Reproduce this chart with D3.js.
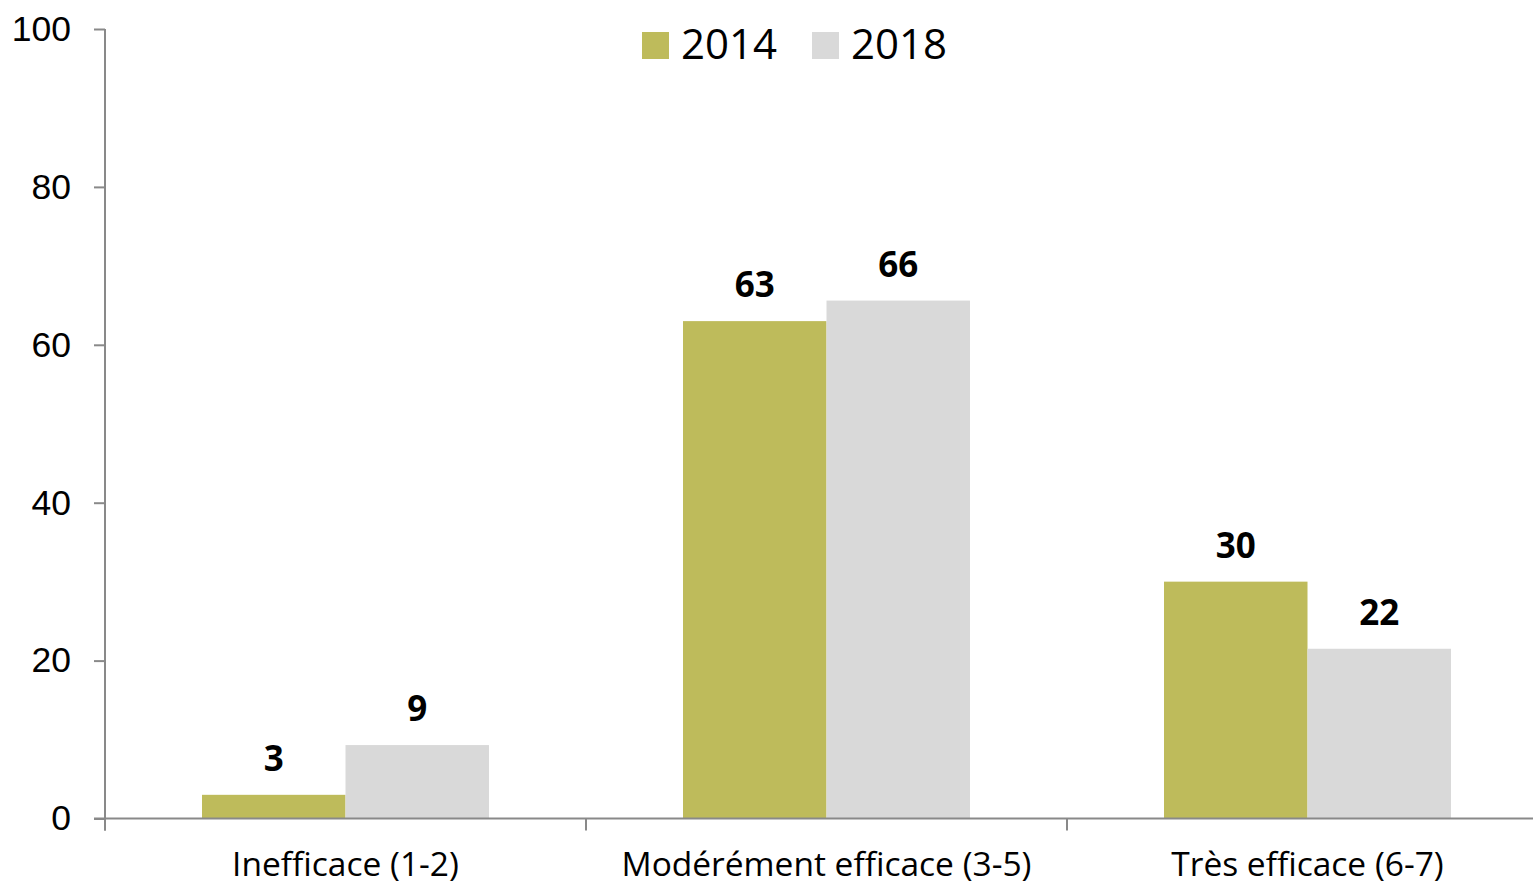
<!DOCTYPE html>
<html>
<head>
<meta charset="utf-8">
<script src="https://cdn.jsdelivr.net/npm/d3@7"></script>
<style>
	body { margin: 0; background: #fff; }
	#chart { width: 1533px; height: 885px; }
</style>
</head>
<body>
<div id="chart"></div>
<script>
// data
const categories = ['Inefficace (1-2)', 'Modérément efficace (3-5)', 'Très efficace (6-7)'];
const seriesNames = ['2014', '2018'];
const values2014 = [3.0, 63.0, 30.0];
const values2018 = [9.3, 65.6, 21.5];
const labels2014 = ['3', '63', '30'];
const labels2018 = ['9', '66', '22'];
const yTicks = [0, 20, 40, 60, 80, 100];
const colors = ['#bebb5b', '#d9d9d9'];

const rows = categories.map(function(c, i){
	return {
		cat: c,
		bars: [
			{ key: seriesNames[0], v: values2014[i], label: labels2014[i] },
			{ key: seriesNames[1], v: values2018[i], label: labels2018[i] }
		]
	};
});

renderChart(document.getElementById('chart'));

function renderChart(dom){
	const w = 1533, h = 885;
	const axisColor = '#898989';

	const plot = d3.select(dom).append('svg')
		.attr('width', w)
		.attr('height', h);

	//scales
	const y = d3.scaleLinear()
		.domain([0, 100])
		.range([818.5, 29]);

	// last category runs off the right edge like in the original
	const x0 = d3.scaleBand()
		.domain(categories)
		.range([105, 1548])
		.padding(0);

	const x1 = d3.scaleBand()
		.domain(seriesNames)
		.range([0, x0.bandwidth()])
		.paddingInner(0)
		.paddingOuter(0.676);

	const color = d3.scaleOrdinal().domain(seriesNames).range(colors);

	//bars
	const groups = plot.selectAll('g.group')
		.data(rows)
		.enter()
		.append('g')
		.attr('class', 'group')
		.attr('transform', function(d){ return `translate(${x0(d.cat)},0)` });

	groups.selectAll('rect')
		.data(function(d){ return d.bars })
		.enter()
		.append('rect')
		.attr('x', function(d){ return x1(d.key) })
		.attr('y', function(d){ return y(d.v) })
		.attr('width', x1.bandwidth())
		.attr('height', function(d){ return y(0) - y(d.v) })
		.style('fill', function(d){ return color(d.key) });

	groups.selectAll('text.val')
		.data(function(d){ return d.bars })
		.enter()
		.append('text')
		.attr('class', 'val')
		.attr('x', function(d){ return x1(d.key) + x1.bandwidth()/2 })
		.attr('y', function(d){ return y(d.v) - 24 })
		.attr('text-anchor', 'middle')
		.style('font-family', '"Open Sans", sans-serif')
		.style('font-weight', 'bold')
		.style('font-size', '35px')
		.style('fill', '#000')
		.text(function(d){ return d.label });

	//y axis
	const yAxis = d3.axisLeft(y)
		.tickValues(yTicks)
		.tickSize(11)
		.tickPadding(23)
		.tickSizeOuter(0);

	const gy = plot.append('g')
		.attr('transform', 'translate(105,0)')
		.call(yAxis);
	gy.select('.domain').attr('d', `M0,${y(100)}V${y(0) + 12}`);
	gy.selectAll('line, path').style('stroke', axisColor).style('stroke-width', '2px');
	gy.selectAll('text')
		.style('font-family', '"Liberation Sans", Arial, sans-serif')
		.style('font-size', '35.5px')
		.style('fill', '#000');

	//x axis
	const gx = plot.append('g')
		.attr('transform', `translate(0,${y(0)})`);
	gx.append('line')
		.attr('x1', 94).attr('x2', w)
		.style('stroke', axisColor).style('stroke-width', '2px');
	gx.selectAll('line.cat')
		.data(categories)
		.enter()
		.append('line')
		.attr('class', 'cat')
		.attr('x1', function(d){ return x0(d) })
		.attr('x2', function(d){ return x0(d) })
		.attr('y1', 0).attr('y2', 12)
		.style('stroke', axisColor).style('stroke-width', '2px');
	gx.selectAll('text')
		.data(categories)
		.enter()
		.append('text')
		.attr('x', function(d){ return x0(d) + x0.bandwidth()/2 })
		.attr('y', 57.5)
		.attr('text-anchor', 'middle')
		.style('font-family', '"Open Sans", sans-serif')
		.style('font-size', '33.5px')
		.style('fill', '#000')
		.text(function(d){ return d });

	//legend
	const legendX = [642, 812];
	const legend = plot.selectAll('g.legend')
		.data(seriesNames)
		.enter()
		.append('g')
		.attr('class', 'legend')
		.attr('transform', function(d, i){ return `translate(${legendX[i]},32)` });
	legend.append('rect')
		.attr('width', 27).attr('height', 27)
		.style('fill', function(d){ return color(d) });
	legend.append('text')
		.attr('x', 39).attr('y', 27)
		.style('font-family', '"Open Sans", sans-serif')
		.style('font-size', '42px')
		.style('fill', '#000')
		.text(function(d){ return d });
}
</script>
</body>
</html>
